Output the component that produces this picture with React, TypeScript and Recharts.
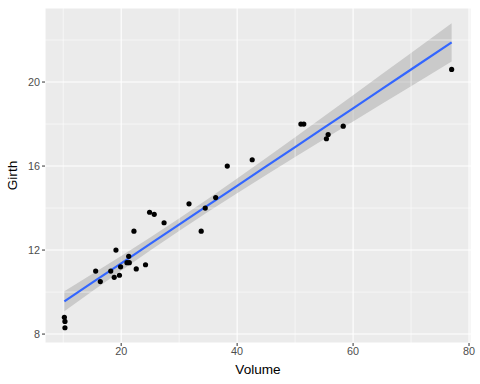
import React from 'react';
import {
  ComposedChart,
  Scatter,
  Line,
  Area,
  XAxis,
  YAxis,
  CartesianGrid,
  ReferenceLine,
  Label,
} from 'recharts';

// trees data: volume vs girth
const volume = [
  10.3, 10.3, 10.2, 16.4, 18.8, 19.7, 15.6, 18.2, 22.6, 19.9, 24.2, 21.0, 21.4, 21.3, 19.1, 22.2,
  33.8, 27.4, 25.7, 24.9, 34.5, 31.7, 36.3, 38.3, 42.6, 55.4, 55.7, 58.3, 51.5, 51.0, 77.0,
];
const girth = [
  8.3, 8.6, 8.8, 10.5, 10.7, 10.8, 11.0, 11.0, 11.1, 11.2, 11.3, 11.4, 11.4, 11.7, 12.0, 12.9,
  12.9, 13.3, 13.7, 13.8, 14.0, 14.2, 14.5, 16.0, 16.3, 17.3, 17.5, 17.9, 18.0, 18.0, 20.6,
];

// lm smooth + 95% band, read at a handful of volumes
const smoothVolume = [10.2, 15, 20, 25, 30.17, 35, 40, 45, 50, 55, 60, 65, 70, 77];
const smoothFit = [9.56, 10.446, 11.368, 12.291, 13.245, 14.136, 15.059, 15.982, 16.904, 17.827, 18.75, 19.672, 20.595, 21.887];
const smoothHalfWidth = [0.474, 0.409, 0.352, 0.313, 0.298, 0.312, 0.349, 0.405, 0.472, 0.547, 0.626, 0.708, 0.793, 0.914];

const xTicks = [20, 40, 60, 80];
const yTicks = [8, 12, 16, 20];
const xMinor = [10, 30, 50, 70];
const yMinor = [10, 14, 18, 22];

const points = volume.map((v, i) => ({ v, g: girth[i] }));
const smooth = smoothVolume.map((v, i) => ({
  v,
  g: smoothFit[i],
  band: [smoothFit[i] - smoothHalfWidth[i], smoothFit[i] + smoothHalfWidth[i]],
}));

const tickStyle = { fill: '#4D4D4D', fontSize: 10.8, fontFamily: 'Liberation Sans, Arial, sans-serif' };
const titleFont = 'Liberation Sans, Arial, sans-serif';

const App = () => {
  return (
    <div style={{ position: 'absolute', left: 0, top: 0, width: 480, height: 384, background: '#fff' }}>
      <ComposedChart width={480} height={384} data={smooth} margin={{ top: 8, right: 9, bottom: 21, left: 0 }}>
        <CartesianGrid fill="#EBEBEB" stroke="#FFFFFF" strokeWidth={1.1} />
        {xMinor.map((x) => (
          <ReferenceLine key={'mx' + x} x={x} stroke="#FFFFFF" strokeWidth={0.55} />
        ))}
        {yMinor.map((y) => (
          <ReferenceLine key={'my' + y} y={y} stroke="#FFFFFF" strokeWidth={0.55} />
        ))}
        <XAxis
          type="number"
          dataKey="v"
          domain={[6.86, 80.34]}
          ticks={xTicks}
          allowDataOverflow
          height={20}
          axisLine={false}
          tickLine={{ stroke: '#333333' }}
          tickSize={3}
          tickMargin={1.5}
          tick={tickStyle}
        >
          <Label
            content={() => (
              <text x={258} y={369} textAnchor="middle" dominantBaseline="central" fontSize={13.6} fontFamily={titleFont} fill="#000">
                Volume
              </text>
            )}
          />
        </XAxis>
        <YAxis
          type="number"
          dataKey="g"
          domain={[7.575, 23.525]}
          ticks={yTicks}
          allowDataOverflow
          width={45}
          axisLine={false}
          tickLine={{ stroke: '#333333' }}
          tickSize={3}
          tickMargin={2}
          tick={tickStyle}
        >
          <Label
            content={() => (
              <text
                x={12}
                y={175.5}
                transform="rotate(-90, 12, 175.5)"
                textAnchor="middle"
                dominantBaseline="central"
                fontSize={13.6}
                fontFamily={titleFont}
                fill="#000"
              >
                Girth
              </text>
            )}
          />
        </YAxis>
        <Area dataKey="band" type="linear" stroke="none" fill="#999999" fillOpacity={0.4} isAnimationActive={false} />
        <Line dataKey="g" type="linear" stroke="#3366FF" strokeWidth={2.2} dot={false} activeDot={false} isAnimationActive={false} />
        <Scatter data={points} fill="#000000" shape={(p: any) => <circle cx={p.cx} cy={p.cy} r={2.6} fill="#000" />} isAnimationActive={false} />
      </ComposedChart>
    </div>
  );
};

export default App;
